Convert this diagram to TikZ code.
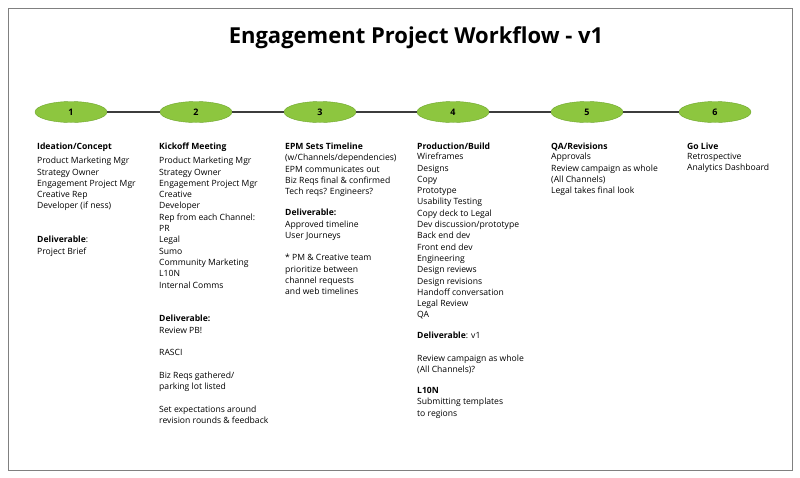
\documentclass[tikz,border=0pt]{standalone}
\usepackage{fontspec}
\setmainfont{Open Sans}
\usetikzlibrary{shapes.geometric}
\definecolor{stagegreen}{RGB}{141,198,63}
\definecolor{stageedge}{RGB}{110,165,45}
\definecolor{linkgray}{RGB}{60,60,60}
\tikzset{
    stage/.style={ellipse, fill=stagegreen, draw=stageedge, minimum width=72pt, minimum height=21pt, inner sep=0pt, font=\bfseries\fontsize{9}{10}\selectfont},
    head/.style={anchor=north west, inner sep=0pt, font=\bfseries\fontsize{8.6}{11.3}\selectfont},
    body/.style={anchor=north west, inner sep=0pt, align=left, font=\fontsize{8.6}{11.3}\selectfont}
}
\begin{document}
\begin{tikzpicture}[x=1pt, y=-1pt]
    \useasboundingbox (0,0) rectangle (800,477);
    % Outer frame
    \draw[gray, line width=0.8pt] (8,8) rectangle (792,470);

    % Title
    \node[font=\bfseries\fontsize{22}{24}\selectfont] (title) at (416,38) {Engagement Project Workflow - v1};

    % Stage ovals on the timeline
    \foreach \n/\x in {1/71, 2/196, 3/320, 4/453, 5/587, 6/715}
        \node[stage] (S\n) at (\x,112) {\n};
    \foreach \a/\b in {1/2, 2/3, 3/4, 4/5, 5/6}
        \draw[linkgray, line width=1.5pt] (S\a) -- (S\b);

    % Column 1
    \node[head] (h1) at (37,143) {Ideation/Concept};
    \node[body] (b1) at (37,157) {Product Marketing Mgr\\Strategy Owner\\Engagement Project Mgr\\Creative Rep\\Developer (if ness)};
    \node[body] (d1) at (37,236) {\textbf{Deliverable}:\\Project Brief};

    % Column 2
    \node[head] (h2) at (159,143) {Kickoff Meeting};
    \node[body] (b2) at (159,157) {Product Marketing Mgr\\Strategy Owner\\Engagement Project Mgr\\Creative\\Developer\\Rep from each Channel:\\PR\\Legal\\Sumo\\Community Marketing\\L10N\\Internal Comms};
    \node[body] (d2) at (159,315) {\textbf{Deliverable:}\\Review PB!\\[11.3pt]RASCI\\[11.3pt]Biz Reqs gathered/\\parking lot listed\\[11.3pt]Set expectations around\\revision rounds \& feedback};

    % Column 3
    \node[head] (h3) at (285,143) {EPM Sets Timeline};
    \node[body] (b3) at (285,154) {(w/Channels/dependencies)\\EPM communicates out\\Biz Reqs final \& confirmed\\Tech reqs? Engineers?};
    \node[body] (d3) at (285,209) {\textbf{Deliverable:}\\Approved timeline\\User Journeys\\[11.3pt]* PM \& Creative team\\prioritize between\\channel requests\\and web timelines};

    % Column 4
    \node[head] (h4) at (417,143) {Production/Build};
    \node[body] (b4) at (417,153) {Wireframes\\Designs\\Copy\\Prototype\\Usability Testing\\Copy deck to Legal\\Dev discussion/prototype\\Back end dev\\Front end dev\\Engineering\\Design reviews\\Design revisions\\Handoff conversation\\Legal Review\\QA};
    \node[body] (d4) at (417,332) {\textbf{Deliverable}: v1\\[11.3pt]Review campaign as whole\\(All Channels)?};
    \node[body] (l4) at (417,387) {\textbf{L10N}\\Submitting templates\\to regions};

    % Column 5
    \node[head] (h5) at (551,143) {QA/Revisions};
    \node[body] (b5) at (551,153) {Approvals\\Review campaign as whole\\(All Channels)\\Legal takes final look};

    % Column 6
    \node[head] (h6) at (687,143) {Go Live};
    \node[body] (b6) at (687,153) {Retrospective\\Analytics Dashboard};
\end{tikzpicture}
\end{document}
